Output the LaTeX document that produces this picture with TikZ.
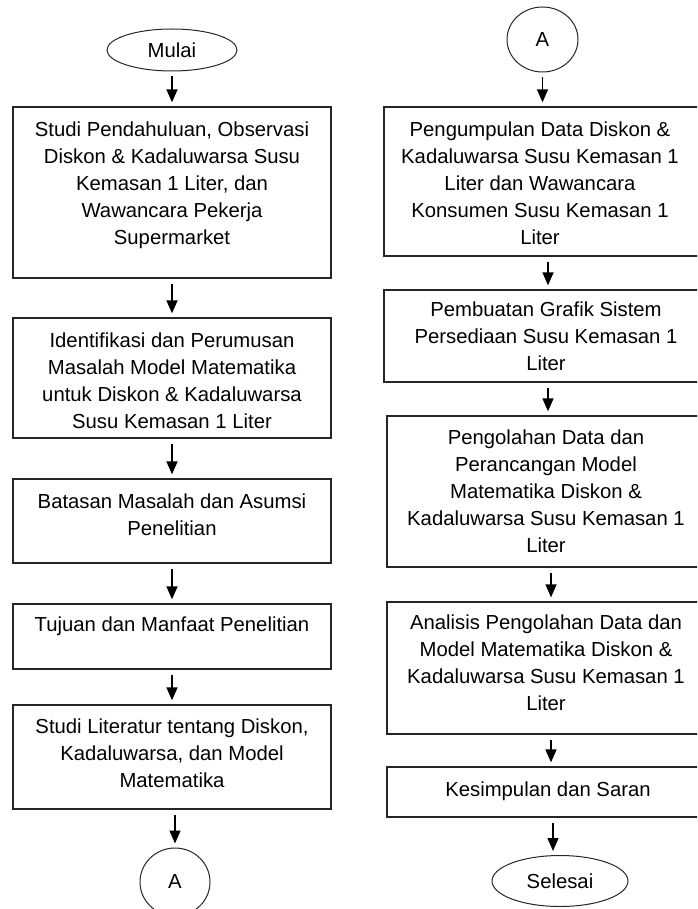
\documentclass[tikz,border=0pt]{standalone}
\usepackage{fontspec}
\setmainfont{Liberation Sans}
\usetikzlibrary{arrows.meta,shapes.geometric}
\begin{document}
\begin{tikzpicture}[x=1pt,y=-1pt,
 box/.style={draw=black!85, line width=1.3pt, rectangle, inner sep=0pt},
 txt/.style={anchor=north, align=center, inner sep=0pt, font=\fontsize{20.3}{27}\selectfont},
 term/.style={draw=black!85, line width=1pt, ellipse, inner sep=0pt, font=\fontsize{20.3}{27}\selectfont},
 arr/.style={-{Triangle[width=11pt,length=13pt]}, line width=1.4pt, shorten <=5pt, shorten >=4pt}]
\useasboundingbox (0,0) rectangle (697,909);
\clip (0,0) rectangle (697,909);
% ---------- left column ----------
\node[term, minimum width=130, minimum height=42] (mulai) at (172,50) {Mulai};
\node[box, minimum width=318, minimum height=171] (b1) at (172,192.5) {};
\node[txt] (t1) at (172,122) {Studi Pendahuluan, Observasi\\Diskon \& Kadaluwarsa Susu\\Kemasan 1 Liter, dan\\Wawancara Pekerja\\Supermarket};
\node[box, minimum width=318, minimum height=120] (b2) at (172,378) {};
\node[txt] (t2) at (172,333) {Identifikasi dan Perumusan\\Masalah Model Matematika\\untuk Diskon \& Kadaluwarsa\\Susu Kemasan 1 Liter};
\node[box, minimum width=318, minimum height=84] (b3) at (172,521) {};
\node[txt] (t3) at (172,494) {Batasan Masalah dan Asumsi\\Penelitian};
\node[box, minimum width=318, minimum height=65] (b4) at (172,636.5) {};
\node[txt] (t4) at (172,617) {Tujuan dan Manfaat Penelitian};
\node[box, minimum width=318, minimum height=104] (b5) at (172,757) {};
\node[txt] (t5) at (172,719) {Studi Literatur tentang Diskon,\\Kadaluwarsa, dan Model\\Matematika};
\node[term, minimum width=70, minimum height=68] (a1) at (175,882) {A};
% ---------- right column ----------
\node[term, minimum width=71, minimum height=65] (a2) at (542.5,39.5) {A};
\node[box, minimum width=328, minimum height=149] (r1) at (548,181.5) {};
\node[txt] (s1) at (540,122) {Pengumpulan Data Diskon \&\\Kadaluwarsa Susu Kemasan 1\\Liter dan Wawancara\\Konsumen Susu Kemasan 1\\Liter};
\node[box, minimum width=328, minimum height=92] (r2) at (548,336) {};
\node[txt] (s2) at (546,302) {Pembuatan Grafik Sistem\\Persediaan Susu Kemasan 1\\Liter};
\node[box, minimum width=328, minimum height=151] (r3) at (551,491.5) {};
\node[txt] (s3) at (546,430) {Pengolahan Data dan\\Perancangan Model\\Matematika Diskon \&\\Kadaluwarsa Susu Kemasan 1\\Liter};
\node[box, minimum width=328, minimum height=132] (r4) at (551,668) {};
\node[txt] (s4) at (546,615) {Analisis Pengolahan Data dan\\Model Matematika Diskon \&\\Kadaluwarsa Susu Kemasan 1\\Liter};
\node[box, minimum width=328, minimum height=50] (r5) at (551,792) {};
\node[txt] (s5) at (548,782) {Kesimpulan dan Saran};
\node[term, minimum width=136, minimum height=51] (sel) at (560,881) {Selesai};
% ---------- arrows ----------
\draw[arr] (mulai.south -| b1.north) -- (b1.north);
\draw[arr] (b1.south) -- (b2.north);
\draw[arr] (b2.south) -- (b3.north);
\draw[arr] (b3.south) -- (b4.north);
\draw[arr] (b4.south) -- (b5.north);
\draw[arr] (b5.south -| a1.north) -- (a1.north);
\draw[arr] (a2.south) -- (a2.south |- r1.north);
\draw[arr] (r1.south -| r2.north) -- (r2.north);
\draw[arr] (r2.south) -- (r2.south |- r3.north);
\draw[arr] (r3.south) -- (r4.north);
\draw[arr] (r4.south) -- (r5.north);
\draw[arr] ([xshift=2pt]r5.south) -- ([xshift=-7pt]sel.north);
\end{tikzpicture}
\end{document}
